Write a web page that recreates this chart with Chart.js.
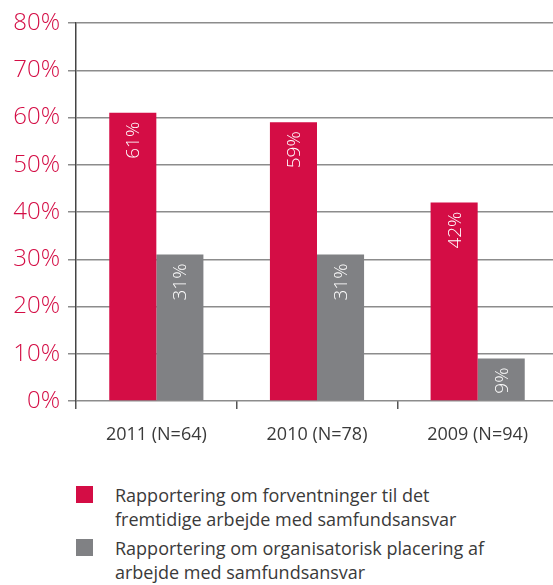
<!DOCTYPE html>
<html>
<head>
<meta charset="utf-8">
<script src="https://cdn.jsdelivr.net/npm/chart.js@4/dist/chart.umd.min.js"></script>
<style>
  html, body { margin: 0; padding: 0; background: #fff; overflow: hidden; }
  #wrap { position: relative; width: 558px; height: 585px; }
  canvas { position: absolute; left: 0; top: 0; }
  #legend { position: absolute; left: 0; top: 0; width: 558px; font-family: "Open Sans", sans-serif; font-weight: 400; font-size: 18px; line-height: 24px; color: #3a3a3a; }
  .item { position: absolute; left: 76px; }
  .sw { position: absolute; left: 0; width: 17px; height: 17px; }
  .txt { position: absolute; left: 39px; white-space: nowrap; }
</style>
</head>
<body>
<div id="wrap">
  <canvas id="c" width="558" height="470"></canvas>
  <div id="legend"></div>
</div>
<script>
const categories = ["2011 (N=64)", "2010 (N=78)", "2009 (N=94)"];
const seriesNames = [
  ["Rapportering om forventninger til det", "fremtidige arbejde med samfundsansvar"],
  ["Rapportering om organisatorisk placering af", "arbejde med samfundsansvar"]
];
const expectations = [61, 59, 42];
const organisation = [31, 31, 9];
const yTicks = [0, 10, 20, 30, 40, 50, 60, 70, 80];

const RED = "#d40d45";
const GREY = "#808184";
const FONT = "'Open Sans', sans-serif";

const barLabels = {
  id: "barLabels",
  afterDatasetsDraw(chart) {
    const ctx = chart.ctx;
    chart.data.datasets.forEach((ds, i) => {
      const meta = chart.getDatasetMeta(i);
      meta.data.forEach((bar, j) => {
        ctx.save();
        ctx.translate(bar.x, bar.y + 9);
        ctx.rotate(-Math.PI / 2);
        ctx.font = "300 19px " + FONT;
        ctx.fillStyle = "#ffffff";
        ctx.textAlign = "right";
        ctx.textBaseline = "middle";
        ctx.fillText(ds.data[j] + "%", 0, 1);
        ctx.restore();
      });
    });
  }
};

const chart = new Chart(document.getElementById("c"), {
  type: "bar",
  data: {
    labels: categories,
    datasets: [
      { label: seriesNames[0].join(" "), data: expectations, backgroundColor: RED },
      { label: seriesNames[1].join(" "), data: organisation, backgroundColor: GREY }
    ]
  },
  options: {
    responsive: false,
    animation: false,
    devicePixelRatio: 1,
    layout: { padding: { top: 23, right: 0, left: 0, bottom: 0 } },
    plugins: { legend: { display: false }, tooltip: { enabled: false } },
    datasets: { bar: { categoryPercentage: 0.586, barPercentage: 1.0 } },
    scales: {
      x: {
        offset: true,
        grid: { display: true, drawOnChartArea: false, drawTicks: true, tickLength: 8, color: "#555", lineWidth: 1.5, offset: true },
        border: { display: false },
        ticks: { color: "#3a3a3a", font: { family: FONT, size: 18, weight: 400 }, padding: 15, maxRotation: 0 },
        afterFit(scale) { scale.height = 470 - 401; }
      },
      y: {
        min: 0, max: 80,
        afterBuildTicks(scale) { scale.ticks = yTicks.map(v => ({ value: v })); },
        grid: { color: "#8c8c8c", lineWidth: 1.5, tickLength: 8, drawTicks: true },
        border: { display: true, color: "#444", width: 1.5 },
        ticks: { color: RED, font: { family: FONT, size: 24, weight: 300 }, padding: 8, callback: v => v + "%" },
        afterFit(scale) { scale.width = 76; }
      }
    }
  },
  plugins: [barLabels]
});

// HTML legend built from the chart datasets
const legend = document.getElementById("legend");
const tops = [483, 536];
chart.data.datasets.forEach((ds, i) => {
  const item = document.createElement("div");
  item.className = "item";
  item.style.top = tops[i] + "px";
  const sw = document.createElement("div");
  sw.className = "sw";
  sw.style.background = ds.backgroundColor;
  sw.style.top = "3px";
  const txt = document.createElement("div");
  txt.className = "txt";
  txt.innerHTML = seriesNames[i].join("<br>");
  item.appendChild(sw);
  item.appendChild(txt);
  legend.appendChild(item);
});
</script>
</body>
</html>
